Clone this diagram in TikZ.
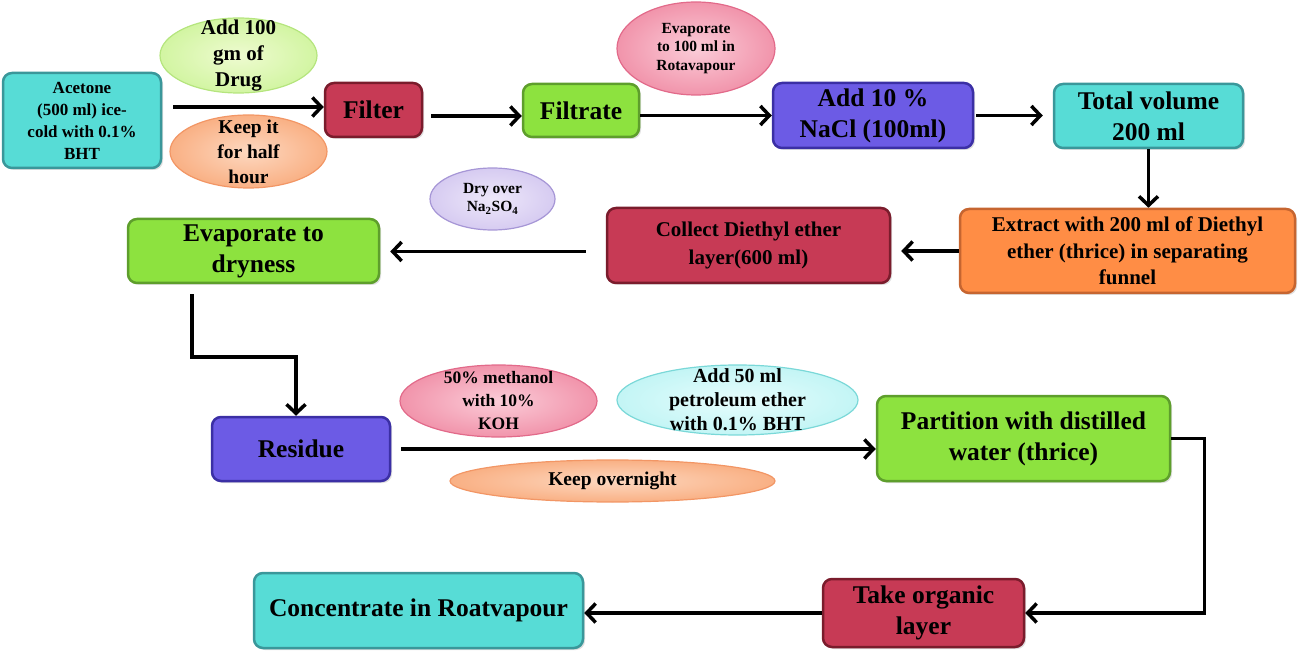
\documentclass[tikz,border=0pt]{standalone}
\usepackage{fontspec}
\setmainfont{Liberation Serif}
\usetikzlibrary{arrows.meta,shapes.geometric,shadows}
\definecolor{tealF}{HTML}{57DCD6}\definecolor{tealD}{HTML}{3A979A}
\definecolor{greenF}{HTML}{8DE23F}\definecolor{greenD}{HTML}{5E9E2C}
\definecolor{maroonF}{HTML}{C73A55}\definecolor{maroonD}{HTML}{7A1C2C}
\definecolor{purpF}{HTML}{6C5BE5}\definecolor{purpD}{HTML}{3B2FA5}
\definecolor{orF}{HTML}{FF8D45}\definecolor{orD}{HTML}{C66530}
\definecolor{lgIn}{HTML}{EEFBD0}\definecolor{lgOut}{HTML}{D2F5A2}\definecolor{lgD}{HTML}{B5E57E}
\definecolor{peIn}{HTML}{FDD8C0}\definecolor{peOut}{HTML}{F9B084}\definecolor{peD}{HTML}{F29665}
\definecolor{piIn}{HTML}{FBCCD8}\definecolor{piOut}{HTML}{F194AB}\definecolor{piD}{HTML}{E26A8A}
\definecolor{laIn}{HTML}{EEE8FA}\definecolor{laOut}{HTML}{D6CBF1}\definecolor{laD}{HTML}{A696D6}
\definecolor{cyIn}{HTML}{E6FDFD}\definecolor{cyOut}{HTML}{C3F5F5}\definecolor{cyD}{HTML}{7AD8D8}
\begin{document}
\begin{tikzpicture}[x=1pt,y=-1pt,
  box/.style={rounded corners=9pt, line width=2.5pt, align=center, inner sep=2pt,
    font=\bfseries\fontsize{25.5}{31}\selectfont,
    drop shadow={shadow xshift=2pt, shadow yshift=-2pt, opacity=0.25}},
  tealbox/.style={box, fill=tealF, draw=tealD},
  greenbox/.style={box, fill=greenF, draw=greenD},
  maroonbox/.style={box, fill=maroonF, draw=maroonD},
  purpbox/.style={box, fill=purpF, draw=purpD},
  orbox/.style={box, fill=orF, draw=orD},
  ell/.style={ellipse, inner sep=0pt, line width=1.2pt},
  lgell/.style={ell, inner color=lgIn, outer color=lgOut, draw=lgD},
  peell/.style={ell, inner color=peIn, outer color=peOut, draw=peD},
  piell/.style={ell, inner color=piIn, outer color=piOut, draw=piD},
  laell/.style={ell, inner color=laIn, outer color=laOut, draw=laD},
  cyell/.style={ell, inner color=cyIn, outer color=cyOut, draw=cyD},
  etxt/.style={align=center, inner sep=0pt},
  arr/.style={line width=3.5pt, -{Straight Barb[length=9pt,width=19pt,line width=3.5pt]}}
]
\useasboundingbox (0,0) rectangle (1299,652);

% ---- boxes ----
\node[tealbox, minimum width=158, minimum height=95, font=\bfseries\fontsize{17}{22}\selectfont] (acetone) at (82,120.5) {Acetone\\(500 ml) ice-\\cold with 0.1\%\\BHT};
\node[maroonbox, minimum width=97, minimum height=54] (filter) at (373.5,110) {Filter};
\node[greenbox, minimum width=116, minimum height=53] (filtrate) at (581,110.5) {Filtrate};
\node[purpbox, minimum width=200, minimum height=65] (nacl) at (873,115.5) {Add 10 \%\\NaCl (100ml)};
\node[tealbox, minimum width=189, minimum height=64] (total) at (1148.5,116) {Total volume\\200 ml};
\node[orbox, minimum width=335, minimum height=84, font=\bfseries\fontsize{21}{26.5}\selectfont] (extract) at (1127.5,251) {Extract with 200 ml of Diethyl\\ether (thrice) in separating\\funnel};
\node[maroonbox, minimum width=283, minimum height=75, font=\bfseries\fontsize{21}{28}\selectfont] (collect) at (748.5,245.5) {Collect Diethyl ether\\layer(600 ml)};
\node[greenbox, minimum width=251, minimum height=64] (evapdry) at (253.5,251) {Evaporate to\\dryness};
\node[purpbox, minimum width=178, minimum height=64] (residue) at (301,449) {Residue};
\node[greenbox, minimum width=293, minimum height=85] (partition) at (1023.5,438.5) {Partition with distilled\\water (thrice)};
\node[maroonbox, minimum width=201, minimum height=68] (organic) at (923.5,613) {Take organic\\layer};
\node[tealbox, minimum width=329, minimum height=75] (concentrate) at (418.5,610.5) {Concentrate in Roatvapour};

% ---- ellipses ----
\node[lgell, minimum width=157, minimum height=75] (e1) at (238.5,55.5) {};
\node[etxt, font=\bfseries\fontsize{21}{26}\selectfont] (e1t) at (e1) {Add 100\\gm of\\Drug};
\node[peell, minimum width=157, minimum height=73] (e2) at (248.5,151.5) {};
\node[etxt, font=\bfseries\fontsize{19.5}{25}\selectfont] (e2t) at (e2) {Keep it\\for half\\hour};
\node[piell, minimum width=158, minimum height=93] (e3) at (696,48.5) {};
\node[etxt, font=\bfseries\fontsize{15.5}{18.5}\selectfont] (e3t) at (e3) {Evaporate\\to 100 ml in\\Rotavapour};
\node[laell, minimum width=125, minimum height=62] (e4) at (492.5,199) {};
\node[etxt, font=\bfseries\fontsize{15.5}{18}\selectfont] (e4t) at (e4) {Dry over\\Na\textsubscript{2}SO\textsubscript{4}};
\node[piell, minimum width=197, minimum height=72] (e5) at (498.5,401) {};
\node[etxt, font=\bfseries\fontsize{17.5}{23}\selectfont] (e5t) at (e5) {50\% methanol\\with 10\%\\KOH};
\node[cyell, minimum width=241, minimum height=70] (e6) at (737.5,400) {};
\node[etxt, font=\bfseries\fontsize{20}{24}\selectfont] (e6t) at (e6) {Add 50 ml\\petroleum ether\\with 0.1\% BHT};
\node[peell, minimum width=325, minimum height=42] (e7) at (612.5,481) {};
\node[etxt, font=\bfseries\fontsize{19.5}{24}\selectfont] (e7t) at (e7) {Keep overnight};

% ---- connectors ----
\draw[arr] ([xshift=11pt,yshift=3pt]acetone.east |- filter.west) -- ([yshift=3pt]filter.west);
\draw[arr] ([xshift=8pt,yshift=-6pt]filter.east) -- ([yshift=-6pt]filter.east -| filtrate.west);
\draw[arr] (filtrate.east |- nacl.west) -- (nacl.west);
\draw[arr] ([xshift=2pt]nacl.east) -- ([xshift=-10pt]total.west |- nacl.east);
\draw[arr] (total.south) -- (total.south |- extract.north);
\draw[arr] (extract.west) -- ([xshift=10pt]collect.east |- extract.west);
\draw[arr] ([xshift=-20pt,yshift=-6pt]collect.west) -- ([xshift=10pt,yshift=-6pt]evapdry.east |- collect.west);
\draw[arr] ([shift={(-61.5,10)}]evapdry.south) -- ++(0,63) -| ([xshift=-5pt]residue.north);
\draw[arr] ([xshift=10pt]residue.east) -- (residue.east -| partition.west);
\draw[arr] (partition.east) -- ++(33,0) |- (organic.east);
\draw[arr] (organic.west) -- (organic.west -| concentrate.east);
\end{tikzpicture}
\end{document}
